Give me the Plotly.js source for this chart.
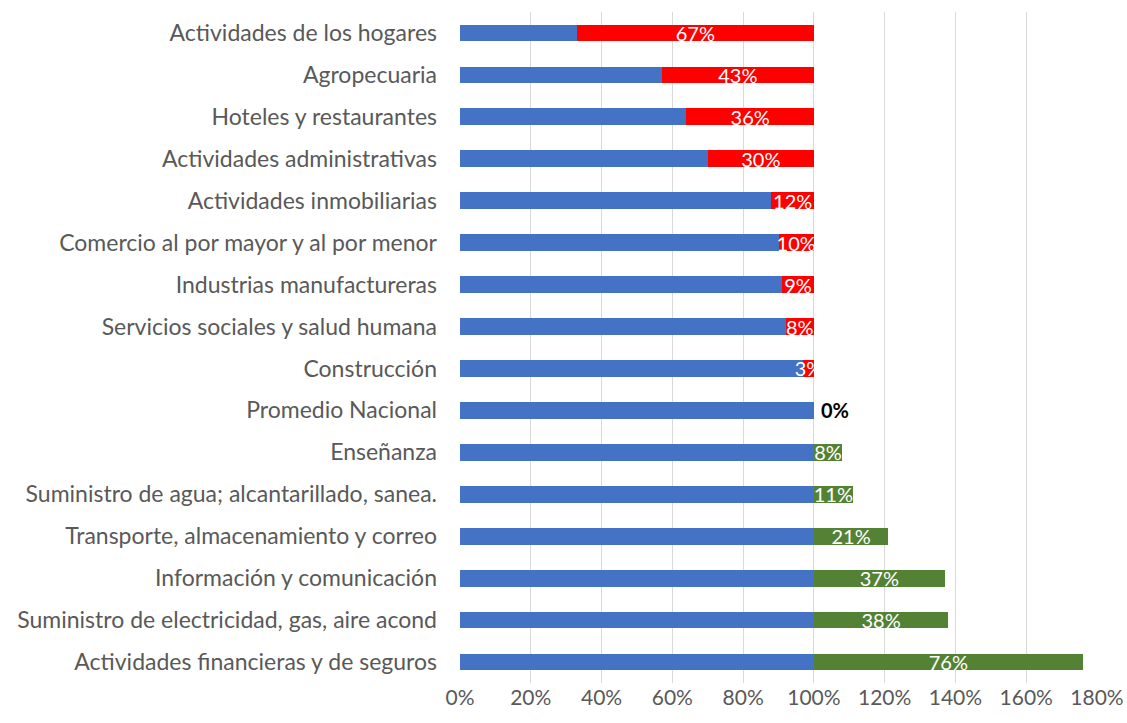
<!DOCTYPE html>
<html>
<head>
<meta charset="utf-8">
<script src="https://cdn.plot.ly/plotly-3.0.1.min.js"></script>
<style>html,body{margin:0;padding:0;background:#fff;}#chart{width:1127px;height:723px;}</style>
</head>
<body>
<div id="chart"></div>
<script>
var categories = [
  "Actividades de los hogares",
  "Agropecuaria",
  "Hoteles y restaurantes",
  "Actividades administrativas",
  "Actividades inmobiliarias",
  "Comercio al por mayor y al por menor",
  "Industrias manufactureras",
  "Servicios sociales y salud humana",
  "Construcción",
  "Promedio Nacional",
  "Enseñanza",
  "Suministro de agua; alcantarillado, sanea.",
  "Transporte, almacenamiento y correo",
  "Información y comunicación",
  "Suministro de electricidad, gas, aire acond",
  "Actividades financieras y de seguros"
];
var baseValues  = [33, 57, 64, 70, 88, 90, 91, 92, 97, 100, 100, 100, 100, 100, 100, 100];
var belowValues = [67, 43, 36, 30, 12, 10, 9, 8, 3, 0, 0, 0, 0, 0, 0, 0];
var aboveValues = [0, 0, 0, 0, 0, 0, 0, 0, 0, 0, 8, 11, 21, 37, 38, 76];
var tickVals = [0, 20, 40, 60, 80, 100, 120, 140, 160, 180];
var tickText = ["0%", "20%", "40%", "60%", "80%", "100%", "120%", "140%", "160%", "180%"];

function pctLabels(arr){ return arr.map(function(v){ return v > 0 ? v + "%" : ""; }); }

var FONT = "Lato, 'Open Sans', 'Liberation Sans', sans-serif";

var traces = [
  {type:"bar", orientation:"h", y:categories, x:baseValues, marker:{color:"#4472C4"}, hoverinfo:"skip", showlegend:false},
  {type:"bar", orientation:"h", y:categories, x:belowValues, marker:{color:"#FF0000"},
   text:pctLabels(belowValues), textposition:"inside", insidetextanchor:"middle", constraintext:"none", textangle:0,
   textfont:{color:"#ffffff", size:20, family:FONT}, cliponaxis:false, showlegend:false},
  {type:"bar", orientation:"h", y:categories, x:aboveValues, marker:{color:"#548235"},
   text:pctLabels(aboveValues), textposition:"inside", insidetextanchor:"middle", constraintext:"none", textangle:0,
   textfont:{color:"#ffffff", size:20, family:FONT}, cliponaxis:false, showlegend:false}
];

var zeroIdx = categories.indexOf("Promedio Nacional");
var layout = {
  width:1127, height:723,
  margin:{l:460, r:30, t:12, b:40},
  barmode:"stack", bargap:0.6,
  paper_bgcolor:"#ffffff", plot_bgcolor:"#ffffff",
  font:{family:FONT, color:"#595959"},
  xaxis:{range:[0,180], tickvals:tickVals, ticktext:tickText, showgrid:true, gridcolor:"#d9d9d9", gridwidth:1,
         zeroline:false, showline:false, ticks:"", ticklabelstandoff:0, tickfont:{size:21, color:"#595959", family:FONT}, fixedrange:true},
  yaxis:{type:"category", autorange:"reversed", showgrid:false, zeroline:false, showline:false, ticks:"",
         ticklabelstandoff:22, tickfont:{size:23, color:"#595959", family:FONT}, fixedrange:true},
  annotations:[{x:baseValues[zeroIdx] + aboveValues[zeroIdx], y:categories[zeroIdx], xref:"x", yref:"y",
    text:"<b>0%</b>", showarrow:false, xanchor:"left", xshift:5, font:{size:20, color:"#000000", family:FONT}}]
};
Plotly.newPlot("chart", traces, layout, {displayModeBar:false, staticPlot:true});
</script>
</body>
</html>
